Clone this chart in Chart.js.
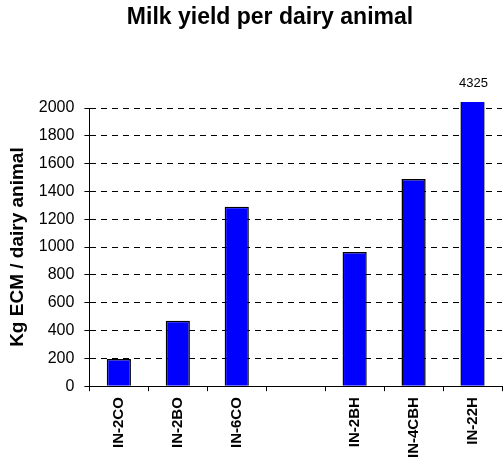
<!DOCTYPE html>
<html>
<head>
<meta charset="utf-8">
<script src="https://cdn.jsdelivr.net/npm/chart.js@4"></script>
<style>
  html, body { margin: 0; padding: 0; background: #fff; }
  #wrap { width: 504px; height: 471px; }
</style>
</head>
<body>
<div id="wrap"><canvas id="milk-chart" width="504" height="471"></canvas></div>
<script>
// Farms (the empty one is the gap between the two groups)
const farms = ['IN-2CO', 'IN-2BO', 'IN-6CO', '', 'IN-2BH', 'IN-4CBH', 'IN-22H'];
// Kg ECM per dairy animal
const milkYield = [195, 470, 1290, null, 965, 1490, 4325];
const yTicks = [0, 200, 400, 600, 800, 1000, 1200, 1400, 1600, 1800, 2000];

const titleText = 'Milk yield per dairy animal';
const yTitle = 'Kg ECM / dairy animal';
const FONT = "'Liberation Sans', Arial, sans-serif";

// Title drawn by hand so it sits a bit right of the page centre
const titlePlugin = {
    id: 'customTitle',
    afterDraw(chart) {
        const ctx = chart.ctx;
        ctx.save();
        ctx.font = 'bold 23px ' + FONT;
        ctx.fillStyle = '#000';
        ctx.textAlign = 'center';
        ctx.textBaseline = 'middle';
        ctx.fillText(titleText, 270, 18);
        ctx.restore();
    }
};

// Bars above the axis max get their real value written on top
const overflowLabels = {
    id: 'overflowLabels',
    afterDatasetsDraw(chart) {
        const ctx = chart.ctx;
        const yMax = chart.scales.y.max;
        const meta = chart.getDatasetMeta(0);
        ctx.save();
        ctx.font = '13px ' + FONT;
        ctx.fillStyle = '#000';
        ctx.textAlign = 'center';
        ctx.textBaseline = 'bottom';
        meta.data.forEach(function(bar, i) {
            const v = milkYield[i];
            if (v !== null && v > yMax) {
                ctx.fillText(String(v), bar.x + 1, chart.chartArea.top - 18);
            }
        });
        ctx.restore();
    }
};

const ctx = document.getElementById('milk-chart').getContext('2d');
new Chart(ctx, {
    type: 'bar',
    data: {
        labels: farms,
        datasets: [{
            data: milkYield,
            backgroundColor: '#0000ff',
            borderColor: '#000',
            borderWidth: 1.5,
            categoryPercentage: 1,
            barPercentage: 0.41,
            clip: { left: 0, right: 0, top: 6, bottom: 0 }
        }]
    },
    options: {
        responsive: false,
        animation: false,
        layout: {
            padding: { top: 108, left: 6, right: 2, bottom: 7 }
        },
        plugins: {
            legend: { display: false },
            title: { display: false },
            tooltip: { enabled: false }
        },
        scales: {
            x: {
                grid: {
                    display: true,
                    drawOnChartArea: false,
                    offset: true,
                    color: '#000',
                    tickLength: 5
                },
                border: { color: '#000', width: 1 },
                ticks: {
                    color: '#000',
                    font: { family: FONT, size: 15, weight: 'bold' },
                    minRotation: 90,
                    maxRotation: 90,
                    autoSkip: false,
                    padding: 6
                }
            },
            y: {
                min: 0,
                max: 2000,
                afterBuildTicks(scale) {
                    scale.ticks = yTicks.map(function(v) { return { value: v }; });
                },
                grid: {
                    color: '#000',
                    lineWidth: 1,
                    tickLength: 5,
                    tickBorderDash: []
                },
                border: { color: '#000', width: 1, dash: [6, 5] },
                ticks: {
                    color: '#000',
                    font: { family: FONT, size: 16 },
                    padding: 10,
                    callback: function(v) { return String(v); }
                },
                title: {
                    display: true,
                    text: yTitle,
                    color: '#000',
                    font: { family: FONT, size: 19, weight: 'bold' },
                    padding: { top: 0, bottom: 0 }
                }
            }
        }
    },
    plugins: [titlePlugin, overflowLabels]
});
</script>
</body>
</html>
